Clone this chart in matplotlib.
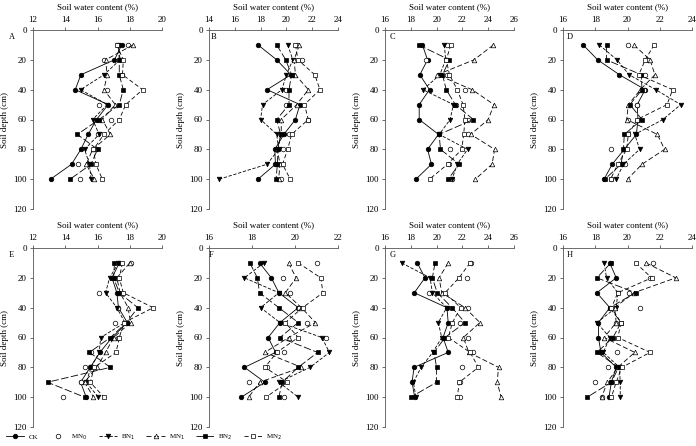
import matplotlib
matplotlib.use('Agg')
import matplotlib.pyplot as plt
from matplotlib.lines import Line2D

plt.rcParams['font.family'] = ['Liberation Serif', 'DejaVu Serif']
plt.rcParams['font.size'] = 6.5

# Depths (cm)
depth = [10, 20, 30, 40, 50, 60, 70, 80, 90, 100]

# Soil water content (%) per panel
A = {'CK':  [17.5, 17.05, 14.97, 14.62, 16.66, 15.94, 15.42, 14.97, 14.39, 13.09],
     'MN0': [17.9, 16.4, 17.5, 16.6, 16.1, 16.85, 16.0, 15.9, 14.8, 14.9],
     'BN1': [17.3, 17.4, 16.4, 14.95, 16.6, 15.7, 16.1, 15.2, 15.5, 15.6],
     'MN1': [18.2, 16.5, 16.6, 16.4, 17.1, 16.3, 16.8, 15.7, 15.3, 15.8],
     'BN2': [17.3, 17.35, 17.35, 17.6, 17.35, 16.1, 14.75, 16.0, 15.6, 14.3],
     'MN2': [17.2, 17.6, 17.55, 18.8, 17.75, 17.35, 16.4, 15.75, 15.9, 16.3]}
B = {'CK':  [17.8, 19.25, 20.35, 18.5, 21.05, 20.7, 19.8, 19.1, 19.15, 17.8],
     'MN0': [20.8, 21.2, 20.5, 20.0, 20.0, 21.7, 20.2, 19.7, 19.3, 19.6],
     'BN1': [20.1, 20.5, 20.0, 19.65, 18.15, 18.0, 19.25, 19.4, 18.5, 14.8],
     'MN1': [21.0, 20.6, 20.7, 21.7, 20.8, 19.6, 19.6, 19.3, 19.5, 19.4],
     'BN2': [19.25, 19.95, 20.4, 20.2, 20.2, 19.25, 19.55, 19.35, 19.3, 19.2],
     'MN2': [20.7, 20.9, 22.2, 22.6, 21.4, 21.7, 20.4, 20.1, 19.7, 20.3]}
C = {'CK':  [18.9, 19.3, 18.7, 19.45, 18.65, 18.65, 20.15, 19.3, 19.6, 18.4],
     'MN0': [20.8, 19.2, 20.8, 22.2, 21.5, 22.45, 22.4, 21.05, 21.0, 21.2],
     'BN1': [20.6, 20.7, 20.25, 18.95, 21.3, 21.05, 20.2, 22.4, 21.6, 21.2],
     'MN1': [24.4, 22.9, 20.05, 22.75, 24.45, 24.0, 22.65, 24.5, 24.3, 23.0],
     'BN2': [18.6, 21.0, 20.45, 20.75, 21.45, 22.85, 20.2, 20.3, 21.75, 20.9],
     'MN2': [21.1, 20.75, 21.0, 21.6, 22.05, 22.2, 22.1, 21.95, 20.85, 19.45]}
D = {'CK':  [17.25, 18.15, 19.5, 21.1, 20.6, 20.65, 20.55, 19.8, 19.05, 18.55],
     'MN0': [20.05, 21.3, 21.1, 21.0, 20.6, 20.0, 20.0, 18.95, 19.85, 19.0],
     'BN1': [18.25, 19.35, 20.1, 21.75, 23.3, 22.2, 20.45, 20.75, 19.75, 19.3],
     'MN1': [20.4, 21.4, 21.7, 20.8, 20.05, 19.95, 21.85, 22.3, 20.9, 20.0],
     'BN2': [18.7, 18.7, 20.85, 20.9, 20.15, 20.9, 19.8, 19.75, 19.6, 18.6],
     'MN2': [21.65, 21.1, 20.7, 22.8, 22.45, 20.6, 20.05, 19.95, 19.4, 18.95]}
E = {'CK':  [17.35, 16.9, 17.2, 17.3, 17.85, 16.9, 16.15, 15.55, 14.95, 15.3],
     'MN0': [18.05, 17.1, 16.1, 17.3, 17.1, 17.3, 15.6, 15.2, 15.0, 13.85],
     'BN1': [17.3, 16.75, 16.5, 17.2, 17.7, 16.2, 16.1, 15.6, 15.3, 16.05],
     'MN1': [18.0, 17.2, 17.4, 17.9, 18.05, 17.0, 16.5, 15.95, 15.2, 15.75],
     'BN2': [17.05, 17.0, 17.35, 18.5, 17.8, 16.8, 15.5, 16.8, 12.9, 15.2],
     'MN2': [17.55, 17.35, 17.6, 19.45, 17.65, 17.35, 17.15, 15.8, 15.55, 16.4]}
F = {'CK':  [18.35, 18.9, 19.25, 20.15, 19.3, 18.75, 19.1, 17.65, 18.6, 17.5],
     'MN0': [21.0, 19.45, 19.75, 20.2, 20.55, 21.45, 19.5, 18.7, 17.85, 19.5],
     'BN1': [18.55, 17.65, 19.25, 18.4, 19.3, 21.25, 21.6, 20.7, 19.25, 20.15],
     'MN1': [19.7, 20.05, 19.55, 20.3, 20.95, 19.7, 18.6, 20.3, 18.35, 17.85],
     'BN2': [17.9, 18.25, 18.35, 19.25, 20.15, 19.3, 21.05, 20.15, 19.4, 19.25],
     'MN2': [20.15, 21.2, 21.3, 20.35, 19.55, 20.15, 19.15, 18.6, 19.65, 18.65]}
G = {'CK':  [18.5, 19.1, 18.27, 20.8, 20.9, 20.5, 20.9, 18.25, 18.1, 18.3],
     'MN0': [22.7, 22.33, 19.43, 22.46, 21.8, 22.41, 22.8, 22.0, 21.8, 21.8],
     'BN1': [17.29, 19.5, 19.67, 20.78, 20.13, 20.4, 19.7, 18.8, 18.2, 18.4],
     'MN1': [20.9, 20.19, 20.4, 22.2, 23.36, 22.07, 22.5, 24.8, 24.7, 25.0],
     'BN2': [19.88, 19.67, 20.05, 21.2, 22.2, 20.65, 19.8, 20.0, 20.0, 18.0],
     'MN2': [22.59, 21.74, 20.65, 21.86, 21.22, 20.91, 22.6, 23.24, 21.76, 21.6]}
H = {'CK':  [18.9, 19.3, 18.1, 18.9, 18.2, 18.2, 18.35, 19.3, 19.0, 18.85],
     'MN0': [21.6, 21.4, 20.1, 20.75, 19.3, 19.0, 19.35, 18.8, 18.0, 18.4],
     'BN1': [18.55, 18.7, 19.4, 19.3, 18.1, 18.9, 18.5, 19.5, 19.55, 19.55],
     'MN1': [21.15, 23.0, 20.4, 19.2, 19.3, 18.55, 20.45, 19.4, 18.75, 18.4],
     'BN2': [18.97, 18.1, 20.5, 18.9, 19.6, 19.1, 18.1, 19.45, 19.0, 17.5],
     'MN2': [20.5, 21.5, 19.4, 19.0, 19.6, 19.4, 21.4, 19.65, 19.3, 19.0]}

panels = [('A', A, (12, 20)), ('B', B, (14, 24)), ('C', C, (16, 26)), ('D', D, (16, 24)),
          ('E', E, (12, 20)), ('F', F, (16, 22)), ('G', G, (16, 26)), ('H', H, (16, 24))]

# marker, face colour, line style for each treatment
styles = {'CK':  ('o', 'black', '-'),
          'MN0': ('o', 'white', 'none'),
          'BN1': ('v', 'black', (0, (4, 2))),
          'MN1': ('^', 'white', (0, (6, 3))),
          'BN2': ('s', 'black', (0, (9, 3))),
          'MN2': ('s', 'white', (0, (5, 3)))}
labels = {'CK': 'CK', 'MN0': 'MN$_0$', 'BN1': 'BN$_1$',
          'MN1': 'MN$_1$', 'BN2': 'BN$_2$', 'MN2': 'MN$_2$'}

W, Hh = 696, 446
fig = plt.figure(figsize=(W / 100, Hh / 100), dpi=100)

col_left = [33, 209, 385, 563]
row_top = [30, 248]
ax_w, ax_h = 129, 179
letter_dx = [-24, 2, 5, 4, -24, 0, 5, 4]

for i, (name, data, xl) in enumerate(panels):
    r, c = divmod(i, 4)
    ax = fig.add_axes([col_left[c] / W, 1 - (row_top[r] + ax_h) / Hh, ax_w / W, ax_h / Hh])
    for key in ['CK', 'MN0', 'BN1', 'MN1', 'BN2', 'MN2']:
        m, fc, ls = styles[key]
        ax.plot(data[key], depth, linestyle=ls, color='black', linewidth=0.6,
                marker=m, markersize=3.3, markerfacecolor=fc, markeredgecolor='black',
                markeredgewidth=0.5)
    ax.set_xlim(*xl)
    ax.set_ylim(120, 0)
    ax.set_xticks(range(xl[0], xl[1] + 1, 2))
    ax.set_yticks(range(0, 121, 20))
    ax.xaxis.tick_top()
    ax.xaxis.set_label_position('top')
    ax.set_xlabel('Soil water content (%)', labelpad=5)
    ax.set_ylabel('Soil depth (cm)', labelpad=3)
    for s in ['right', 'bottom']:
        ax.spines[s].set_visible(False)
    for s in ['left', 'top']:
        ax.spines[s].set_linewidth(0.6)
        ax.spines[s].set_color('#555555')
    ax.tick_params(length=2.5, width=0.6, color='#555555', pad=2)
    ax.text(letter_dx[i] / ax_w, 5, name, transform=ax.get_yaxis_transform(),
            ha='left', va='center', fontsize=6)

handles = []
for key in ['CK', 'MN0', 'BN1', 'MN1', 'BN2', 'MN2']:
    m, fc, ls = styles[key]
    handles.append(Line2D([], [], linestyle=ls, color='black', linewidth=0.6, marker=m,
                          markersize=3.3, markerfacecolor=fc, markeredgecolor='black',
                          markeredgewidth=0.5, label=labels[key]))
fig.legend(handles=handles, loc='lower left', bbox_to_anchor=(0.0, -0.005), ncol=6,
           frameon=False, fontsize=5, handlelength=2.6, handletextpad=0.6,
           columnspacing=1.6)

fig.savefig('out.png', dpi=100)
